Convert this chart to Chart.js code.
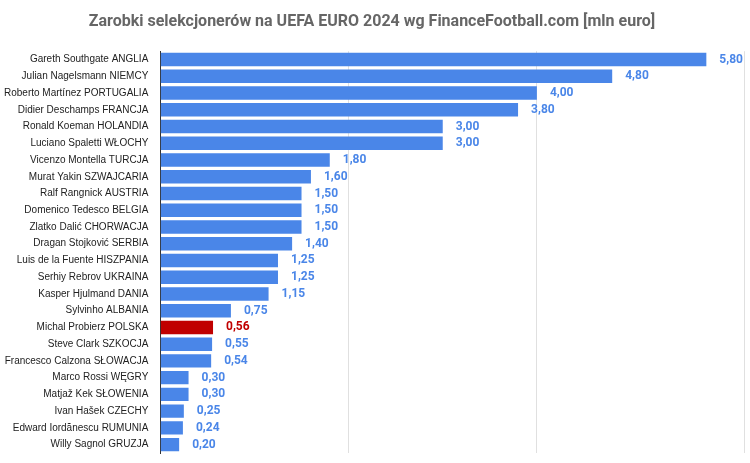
<!DOCTYPE html>
<html><head><meta charset="utf-8">
<script src="https://cdn.jsdelivr.net/npm/chart.js@4"></script>
<style>body{margin:0;background:#fff}#w{width:750px;height:463px}</style>
</head><body><div id="w"><canvas id="c"></canvas></div>
<script>
const categories=["Gareth Southgate ANGLIA","Julian Nagelsmann NIEMCY","Roberto Martínez PORTUGALIA","Didier Deschamps FRANCJA","Ronald Koeman HOLANDIA","Luciano Spaletti WŁOCHY","Vicenzo Montella TURCJA","Murat Yakin SZWAJCARIA","Ralf Rangnick AUSTRIA","Domenico Tedesco BELGIA","Zlatko Dalić CHORWACJA","Dragan Stojković SERBIA","Luis de la Fuente HISZPANIA","Serhiy Rebrov UKRAINA","Kasper Hjulmand DANIA","Sylvinho ALBANIA","Michal Probierz POLSKA","Steve Clark SZKOCJA","Francesco Calzona SŁOWACJA","Marco Rossi WĘGRY","Matjaž Kek SŁOWENIA","Ivan Hašek CZECHY","Edward Iordănescu RUMUNIA","Willy Sagnol GRUZJA"];
const values=[5.80,4.80,4.00,3.80,3.00,3.00,1.80,1.60,1.50,1.50,1.50,1.40,1.25,1.25,1.15,0.75,0.56,0.55,0.54,0.30,0.30,0.25,0.24,0.20];
const highlight="Michal Probierz POLSKA";
const colors=categories.map(c=>c===highlight?"#c00000":"#4a86e8");
const labelPlugin={id:"vl",afterDatasetsDraw(ch){const ctx=ch.ctx;const m=ch.getDatasetMeta(0);ctx.save();ctx.font="bold 12px Roboto, Arial";ctx.textBaseline="middle";m.data.forEach((b,i)=>{ctx.fillStyle=categories[i]===highlight?"#c00000":"#4a86e8";ctx.fillText(values[i].toFixed(2).replace(".",","),b.x+13,b.y);});ctx.restore();}};
new Chart(document.getElementById("c"),{type:"bar",data:{labels:categories,datasets:[{data:values,backgroundColor:colors,barPercentage:0.8,categoryPercentage:1}]},
options:{indexAxis:"y",responsive:true,maintainAspectRatio:false,animation:false,
layout:{padding:{left:0,right:6,top:0,bottom:6}},
plugins:{legend:{display:false},tooltip:{enabled:false},title:{display:true,text:"Zarobki selekcjonerów na UEFA EURO 2024 wg FinanceFootball.com [mln euro]",color:"#666",font:{size:16,weight:"bold",family:"Roboto, Arial"},padding:{top:12,bottom:20}}},
scales:{x:{min:0,max:6.2,ticks:{display:false,stepSize:2},grid:{color:"#e0e0e0",drawTicks:false},border:{display:false}},
y:{ticks:{color:"#222",font:{size:10,family:"Arial"},padding:4},grid:{display:false},border:{color:"#333"}}}},
plugins:[labelPlugin]});
</script></body></html>
